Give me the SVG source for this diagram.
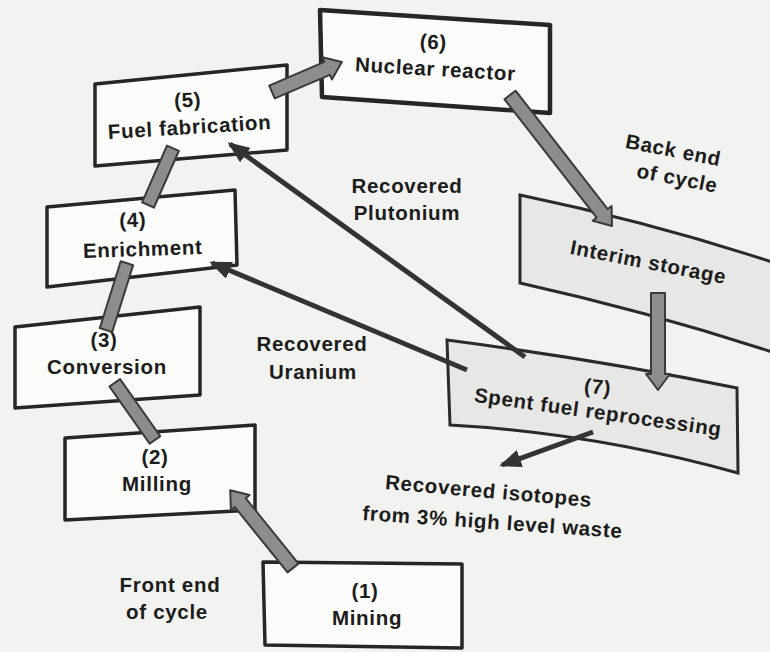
<svg xmlns="http://www.w3.org/2000/svg" width="770" height="652" viewBox="0 0 770 652">
<style>
.box{fill:#fbfbf9;stroke:#262626;stroke-width:3.5;stroke-linejoin:round}
.shaded{fill:#e7e7e5;stroke:#2a2a2a;stroke-width:3}
.fat{fill:#8d8d8d;stroke:#3a3a3a;stroke-width:2;stroke-linejoin:round}
.thin{fill:none;stroke:#333;stroke-width:5}
text{font-family:"Liberation Sans",Arial,sans-serif;font-size:20.5px;font-weight:bold;letter-spacing:0.7px;fill:#1c1c1c;text-anchor:middle}
</style>
<defs>
<marker id="ah" markerUnits="userSpaceOnUse" markerWidth="22" markerHeight="18" refX="19" refY="9" orient="auto">
<path d="M0,0 L22,9 L0,18 z" fill="#333"/>
</marker>
</defs>
<rect width="770" height="652" fill="#f2f2f0"/>

<g id="n6">
<polygon class="box" points="320,10 550,25 550,113 322,97" style="stroke-width:4.5"/>
<text x="433" y="49" transform="rotate(3 433 49)">(6)</text>
<text x="435" y="76" transform="rotate(3.4 435 76)">Nuclear reactor</text>
</g>
<g id="n5">
<polygon class="box" points="95,84 287,65 287,150 95,166"/>
<text x="188" y="107" transform="rotate(-3 188 107)">(5)</text>
<text x="190" y="134" transform="rotate(-3.5 190 134)">Fuel fabrication</text>
</g>
<g id="n4">
<polygon class="box" points="47,207 235,190 237,265 47,287"/>
<text x="133" y="227" transform="rotate(-2 133 227)">(4)</text>
<text x="143" y="256" transform="rotate(-2 143 256)">Enrichment</text>
</g>
<g id="n3">
<polygon class="box" points="15,327 200,307 200,395 15,408"/>
<text x="104" y="347">(3)</text>
<text x="107" y="374">Conversion</text>
</g>
<g id="n2">
<polygon class="box" points="65,438 255,425 255,510 65,520"/>
<text x="155" y="464">(2)</text>
<text x="157" y="491">Milling</text>
</g>
<g id="n1">
<polygon class="box" points="263,562 462,564 462,648 265,645"/>
<text x="365" y="598">(1)</text>
<text x="367" y="625">Mining</text>
</g>
<g id="interim">
<path class="shaded" d="M520,195 Q650,222 772,262 L772,352 Q650,312 520,283 Z"/>
<text x="647" y="269" transform="rotate(11 647 269)">Interim storage</text>
</g>
<g id="n7">
<path class="shaded" d="M447,340 Q600,360 737,388 L738,473 Q594,433 450,425 Z"/>
<text x="597" y="394" transform="rotate(6 597 394)">(7)</text>
<text x="597" y="419" transform="rotate(8 597 419)">Spent fuel reprocessing</text>
</g>

<g id="connectors">
<g transform="translate(293,568) rotate(-128.9)"><path class="fat" d="M0,-7 H84 V-12 L100,0 L84,12 V7 H0 Z"/></g>
<g transform="translate(155,440) rotate(-125.1)"><path class="fat" d="M0,-6.5 H70 V6.5 H0 Z"/></g>
<g transform="translate(106,330) rotate(-72.6)"><path class="fat" d="M0,-6.5 H70 V6.5 H0 Z"/></g>
<g transform="translate(148,205) rotate(-66.3)"><path class="fat" d="M0,-6.5 H62 V6.5 H0 Z"/></g>
<g transform="translate(272,92) rotate(-23.2)"><path class="fat" d="M0,-7 H60 V-12 L76,0 L60,12 V7 H0 Z"/></g>
<g transform="translate(510,95) rotate(52.1)"><path class="fat" d="M0,-7 H150 V-12 L166,0 L150,12 V7 H0 Z"/></g>
<g transform="translate(658,293) rotate(90)"><path class="fat" d="M0,-7 H81 V-12 L97,0 L81,12 V7 H0 Z"/></g>
<line class="thin" x1="525" y1="357" x2="230" y2="144" marker-end="url(#ah)"/>
<line class="thin" x1="467" y1="370" x2="212" y2="263" marker-end="url(#ah)"/>
<line class="thin" x1="593" y1="432" x2="502" y2="465" marker-end="url(#ah)"/>
</g>

<g id="labels">
<text x="407" y="193">Recovered</text>
<text x="407" y="220">Plutonium</text>
<text x="312" y="351">Recovered</text>
<text x="313" y="379">Uranium</text>
<text x="672" y="157" transform="rotate(11 672 157)">Back end</text>
<text x="676" y="185" transform="rotate(11 676 185)">of cycle</text>
<text x="170" y="592">Front end</text>
<text x="167" y="619">of cycle</text>
<text x="488" y="498" transform="rotate(5 488 498)">Recovered isotopes</text>
<text x="492" y="529" transform="rotate(4 492 529)">from 3% high level waste</text>
</g>
</svg>
